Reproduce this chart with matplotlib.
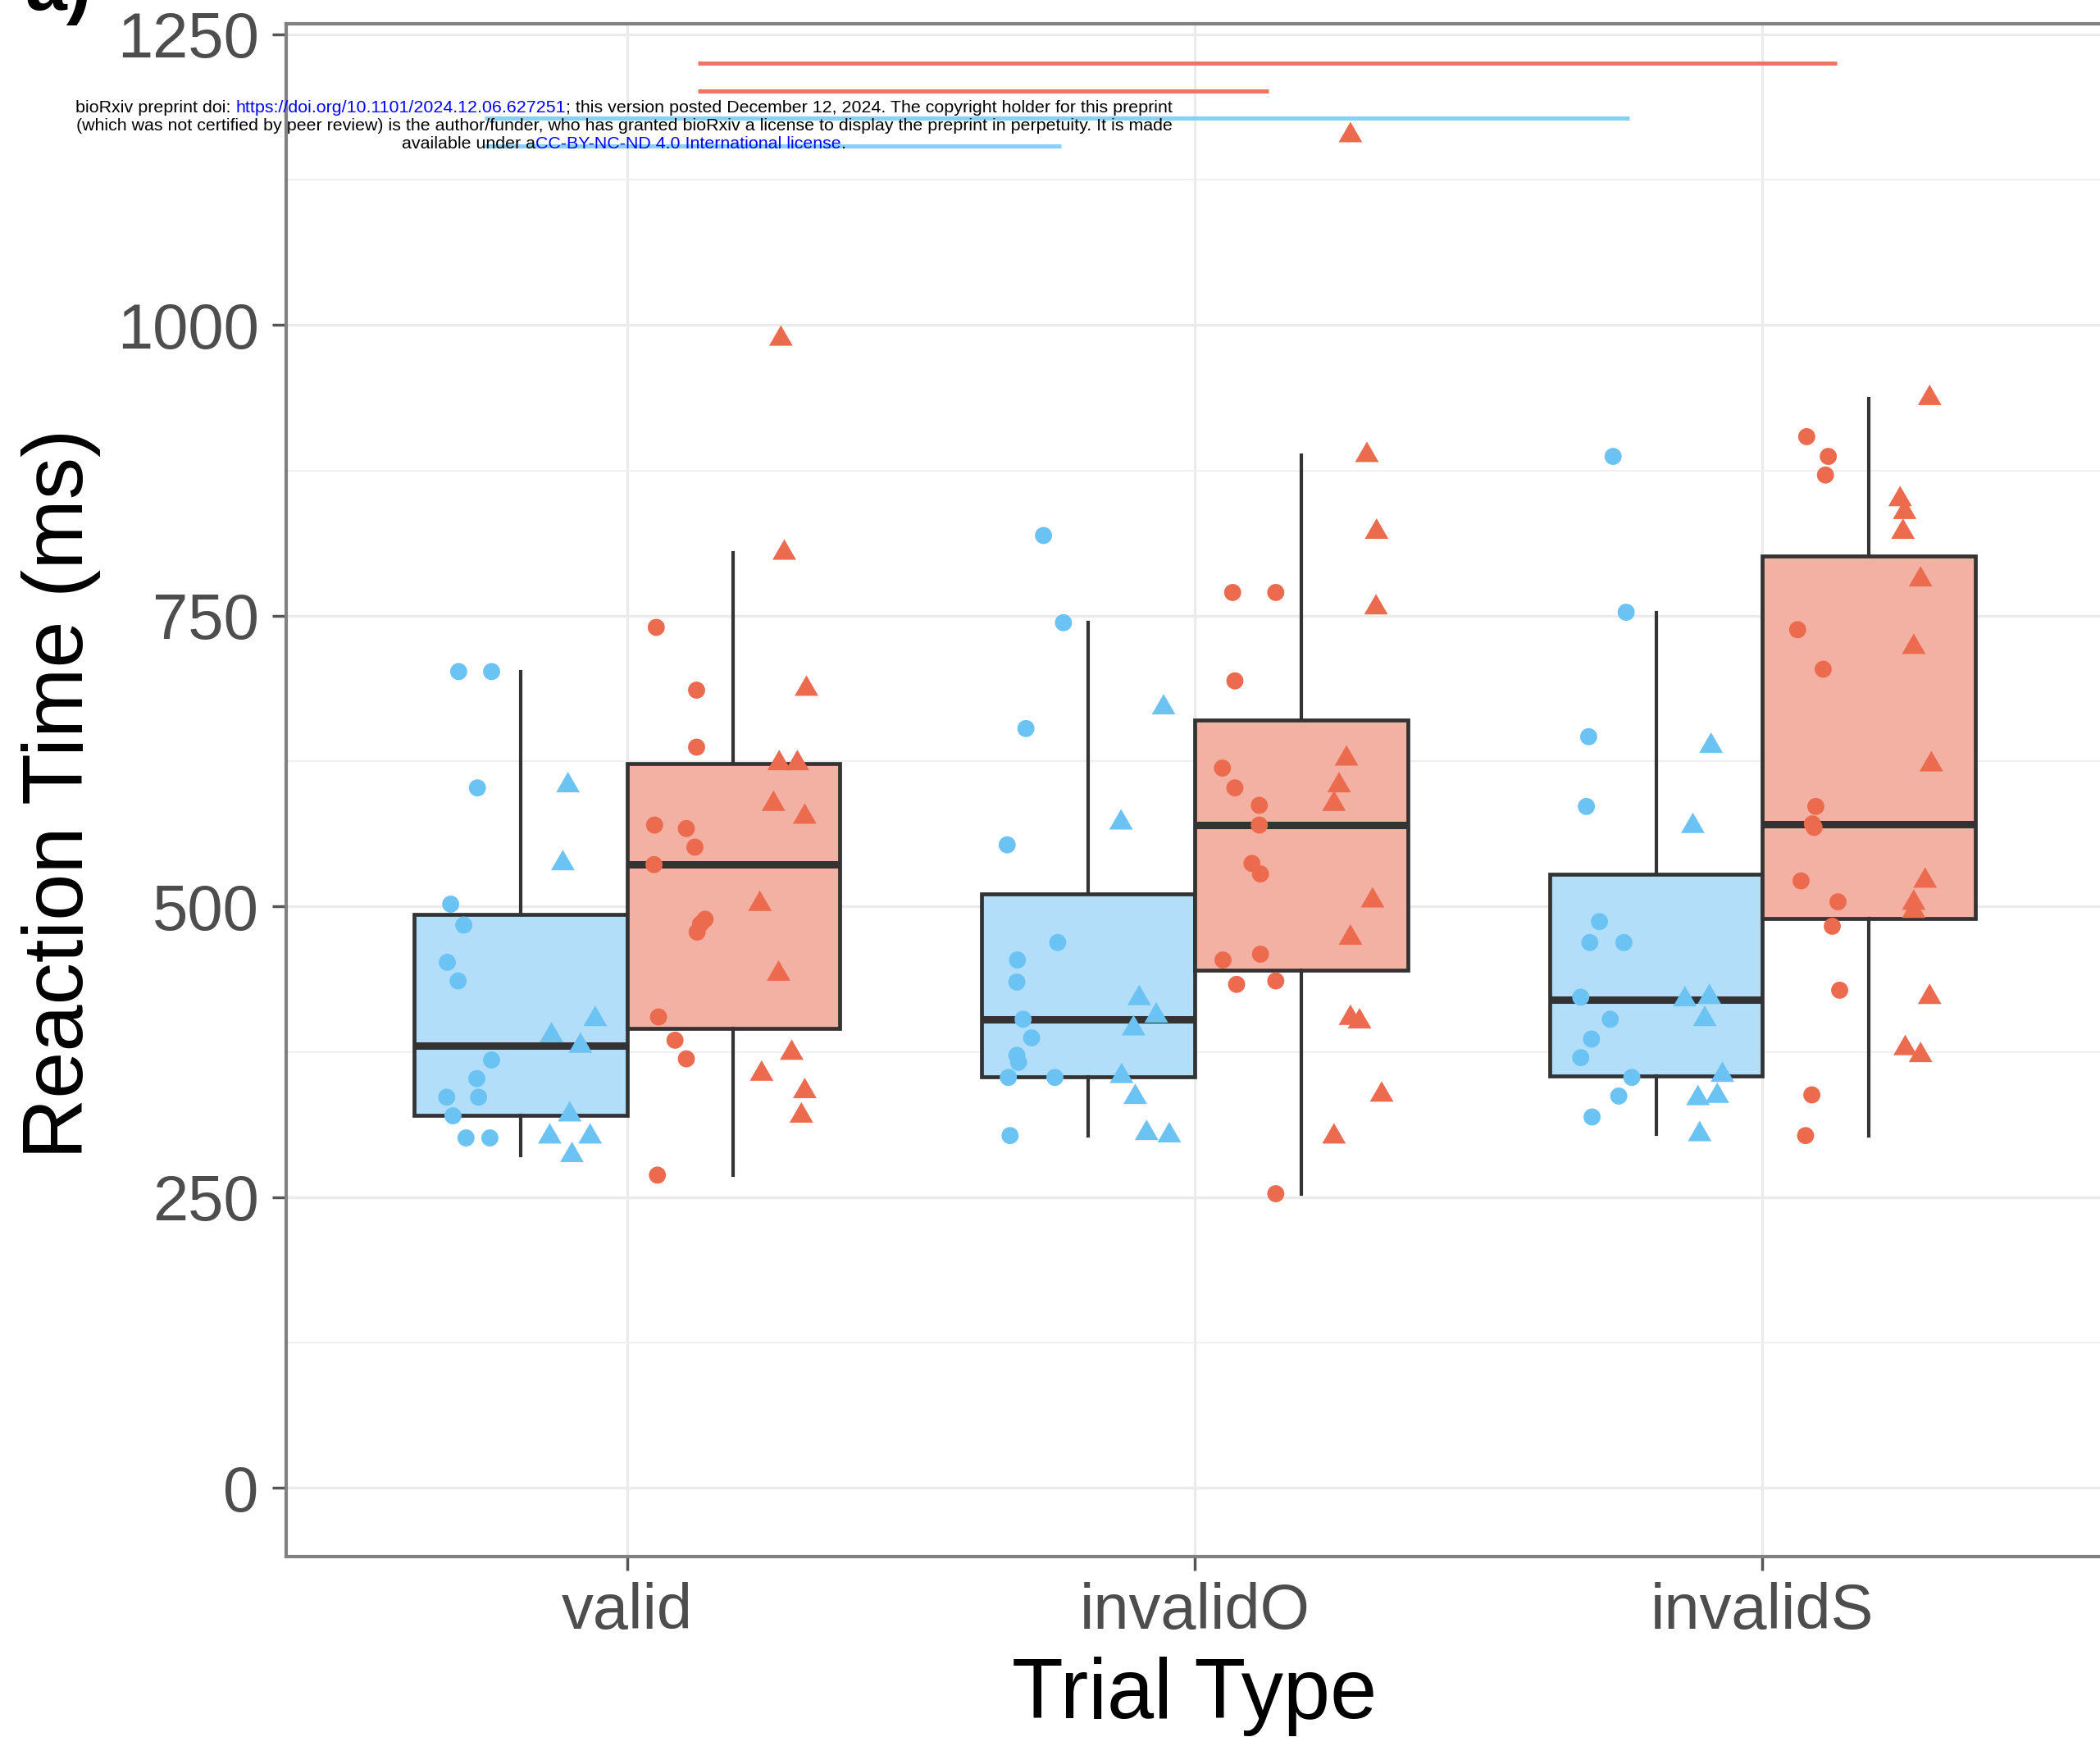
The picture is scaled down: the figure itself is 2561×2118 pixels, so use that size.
import matplotlib
matplotlib.use('Agg')
import matplotlib.pyplot as plt
import numpy as np

plt.rcParams['font.family'] = ['Liberation Sans', 'DejaVu Sans']

W, H = 2561, 2118

trial_types = ['valid', 'invalidO', 'invalidS']

# reaction times, one list per trial type
blue_circle_rt = [
    [702, 702, 602, 502, 484, 452, 436, 368, 352, 336, 336, 320, 301, 301],
    [819, 744, 653, 553, 469, 454, 435, 403, 387, 372, 366, 353, 353, 303],
    [887, 753, 646, 586, 487, 469, 469, 422, 403, 386, 370, 353, 337, 319],
]
blue_triangle_rt = [
    [604, 537, 403, 389, 380, 321, 302, 302, 286],
    [671, 572, 421, 406, 395, 354, 336, 305, 303],
    [638, 569, 420, 422, 403, 355, 335, 337, 304],
]
red_circle_rt = [
    [740, 686, 637, 570, 567, 551, 536, 489, 485, 478, 405, 385, 369, 269],
    [770, 770, 694, 619, 602, 587, 570, 537, 528, 459, 454, 436, 433, 253],
    [904, 887, 871, 738, 704, 586, 571, 568, 522, 504, 483, 428, 338, 303],
]
red_triangle_rt = [
    [988, 804, 687, 623, 623, 588, 577, 502, 442, 374, 356, 341, 320],
    [1163, 888, 822, 757, 627, 604, 588, 505, 473, 404, 401, 338, 302],
    [937, 850, 839, 822, 781, 723, 622, 522, 503, 496, 422, 378, 372],
]

# horizontal jitter of each point
blue_circle_jit = [
    [-0.015, 0.043, 0.018, -0.029, -0.006, -0.035, -0.016, 0.043, 0.017, 0.020, -0.036, -0.025, -0.002, 0.040],
    [0.015, 0.050, -0.016, -0.049, 0.040, -0.031, -0.032, -0.021, -0.006, -0.032, -0.029, -0.047, 0.035, -0.044],
    [0.018, 0.041, -0.025, -0.029, -0.006, -0.023, 0.037, -0.039, 0.013, -0.020, -0.039, 0.051, 0.028, -0.019],
]
blue_triangle_jit = [
    [-0.010, -0.019, 0.038, -0.039, 0.012, -0.007, -0.042, 0.029, -0.003],
    [0.039, -0.036, -0.004, 0.026, -0.014, -0.035, -0.011, 0.009, 0.049],
    [0.003, -0.029, -0.043, 0.000, -0.008, 0.023, -0.020, 0.014, -0.017],
]
red_circle_jit = [
    [-0.042, 0.029, 0.029, -0.045, 0.011, 0.026, -0.046, 0.044, 0.036, 0.030, -0.038, -0.009, 0.011, -0.040],
    [-0.027, 0.049, -0.023, -0.045, -0.023, 0.020, 0.020, 0.007, 0.022, 0.022, -0.044, 0.049, -0.020, 0.049],
    [-0.016, 0.022, 0.017, -0.032, 0.013, 0.000, -0.006, -0.003, -0.026, 0.039, 0.029, 0.042, -0.007, -0.018],
]
red_triangle_jit = [
    [-0.010, -0.004, 0.035, -0.013, 0.019, -0.023, 0.032, -0.047, -0.014, 0.009, -0.044, 0.032, 0.026],
    [-0.007, 0.022, 0.039, 0.038, -0.014, -0.027, -0.036, 0.032, -0.007, -0.007, 0.009, 0.048, -0.036],
    [0.013, -0.039, -0.031, -0.034, -0.003, -0.015, 0.016, 0.005, -0.015, -0.015, 0.013, -0.030, -0.003],
]

# significance bars at the top
sig_y = [1225, 1201, 1178, 1154]
sig_start = [1.125, 1.125, 0.75, 0.75]
sig_end = [3.13, 2.13, 2.765, 1.765]
sig_group = ['red', 'red', 'blue', 'blue']

point_col = {'blue': '#6AC3F3', 'red': '#EC6B4F'}
fill_col = {'blue': '#B3DEFA', 'red': '#F2B1A2'}
line_col = {'blue': '#8AD0F6', 'red': '#EF7561'}
dark = '#333333'

fig = plt.figure(figsize=(W / 100, H / 100), dpi=100)
ax = fig.add_axes([349 / W, 1 - 1898 / H, (2565 - 349) / W, (1898 - 29) / H])

pos = np.arange(1, len(trial_types) + 1)

# boxes (no outliers, like ggplot with outlier.shape = NA)
for grp, circ, tri, off in [('blue', blue_circle_rt, blue_triangle_rt, -0.1875),
                            ('red', red_circle_rt, red_triangle_rt, 0.1875)]:
    vals = [c + t for c, t in zip(circ, tri)]
    ax.boxplot(vals, positions=pos + off, widths=0.375, patch_artist=True,
               showfliers=False, showcaps=False, whis=1.5, manage_ticks=False,
               boxprops=dict(facecolor=fill_col[grp], edgecolor=dark, linewidth=3.4),
               medianprops=dict(color=dark, linewidth=6.5),
               whiskerprops=dict(color=dark, linewidth=3),
               zorder=2)

tri_marker = [(-1, -0.577), (1, -0.577), (0, 1.155)]
dodge = {'blue_circle': -0.28125, 'blue_tri': -0.09375,
         'red_circle': 0.09375, 'red_tri': 0.28125}
circ_s = 15 ** 2
tri_s = 24 ** 2

for i, p in enumerate(pos):
    ax.scatter(p + dodge['blue_circle'] + np.array(blue_circle_jit[i]), blue_circle_rt[i],
               s=circ_s, color=point_col['blue'], edgecolors='none', zorder=4)
    ax.scatter(p + dodge['blue_tri'] + np.array(blue_triangle_jit[i]), blue_triangle_rt[i],
               marker=tri_marker, s=tri_s, color=point_col['blue'], edgecolors='none', zorder=4)
    ax.scatter(p + dodge['red_circle'] + np.array(red_circle_jit[i]), red_circle_rt[i],
               s=circ_s, color=point_col['red'], edgecolors='none', zorder=4)
    ax.scatter(p + dodge['red_tri'] + np.array(red_triangle_jit[i]), red_triangle_rt[i],
               marker=tri_marker, s=tri_s, color=point_col['red'], edgecolors='none', zorder=4)

for y, x0, x1, g in zip(sig_y, sig_start, sig_end, sig_group):
    ax.plot([x0, x1], [y, y], color=line_col[g], lw=3.6, solid_capstyle='butt', zorder=3)

ax.set_xlim(0.4, 3.6)
ax.set_ylim(-59, 1259)
ax.set_xticks(pos, trial_types)
ax.set_yticks([0, 250, 500, 750, 1000, 1250])
ax.set_yticks(np.arange(125, 1250, 250), minor=True)
ax.tick_params(axis='both', which='major', length=12, width=2.5, color='#555555',
               labelsize=56, labelcolor='#4D4D4D')
ax.tick_params(axis='y', which='major', pad=12)
ax.tick_params(axis='x', which='major', pad=10)
ax.tick_params(axis='y', which='minor', length=0)
ax.grid(which='major', color='#EBEBEB', lw=2.4)
ax.grid(which='minor', axis='y', color='#F0F0F0', lw=1.4)
ax.set_axisbelow(True)
for sp in ax.spines.values():
    sp.set_color('#808080')
    sp.set_linewidth(3)

fig.text(1457 / W, 1 - 2095 / H, 'Trial Type', fontsize=74, ha='center', va='baseline')
fig.text(101 / W, 1 - 968 / H, 'Reaction Time (ms)', fontsize=74, rotation=90,
         rotation_mode='anchor', ha='center', va='baseline')
fig.text(30 / W, 1 - 12 / H, 'a)', fontsize=66, fontweight='bold', ha='left', va='baseline')

# bioRxiv stamp, with the links in blue
renderer = fig.canvas.get_renderer()
stamp = [
    (137, [('bioRxiv preprint doi: ', 'black'),
           ('https://doi.org/10.1101/2024.12.06.627251', '#0000FF'),
           ('; this version posted December 12, 2024. The copyright holder for this preprint', 'black')]),
    (159, [('(which was not certified by peer review) is the author/funder, who has granted bioRxiv '
            'a license to display the preprint in perpetuity. It is made', 'black')]),
    (181, [('available under a', 'black'),
           ('CC-BY-NC-ND 4.0 International license', '#0000FF'),
           ('.', 'black')]),
]


def text_width(s, size):
    t = fig.text(0, 0, s + '|', fontsize=size)
    bar = fig.text(0, 0, '|', fontsize=size)
    w = t.get_window_extent(renderer).width - bar.get_window_extent(renderer).width
    t.remove()
    bar.remove()
    return w


stamp_size = 15.4
for base, parts in stamp:
    full = ''.join(s for s, _ in parts)
    x_left = 761 - text_width(full, stamp_size) / 2
    prefix = ''
    for s, c in parts:
        x = x_left + (text_width(prefix, stamp_size) if prefix else 0)
        fig.text(x / W, 1 - base / H, s, fontsize=stamp_size, color=c, ha='left', va='baseline')
        prefix += s

fig.savefig('out.png', dpi=100)
